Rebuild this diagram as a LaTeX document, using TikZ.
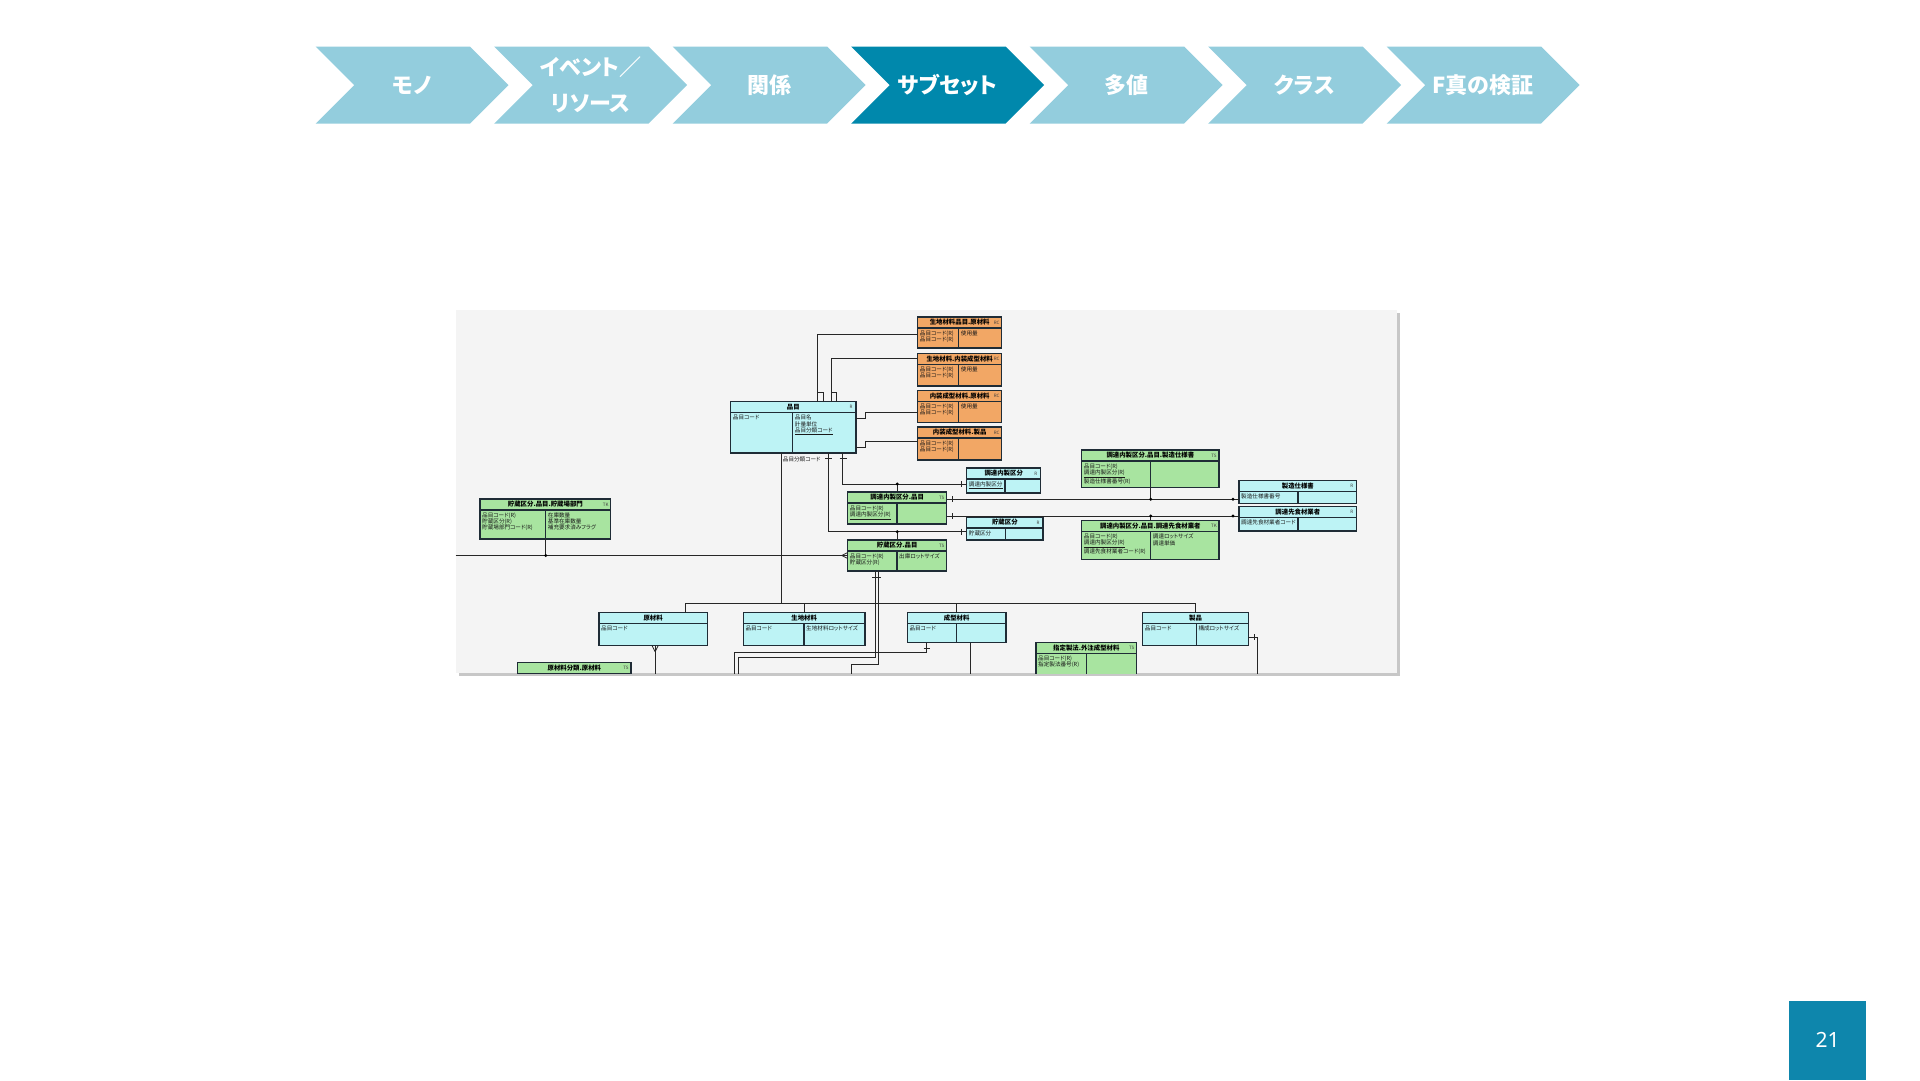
\documentclass[tikz,border=0pt]{standalone}
\usepackage{fontspec}
\usepackage{tikz}
\newfontfamily\jp{Noto Sans CJK JP}[RawFeature=+palt]
\newfontfamily\numfont{Noto Sans}
\usetikzlibrary{shapes.symbols}
\definecolor{stepc}{HTML}{93CDDD}
\definecolor{stepdark}{HTML}{0088AC}
\definecolor{pagec}{HTML}{0E86AC}
\definecolor{erbg}{HTML}{F4F4F4}
\definecolor{ercyan}{HTML}{BDF3F5}
\definecolor{ergreen}{HTML}{A8E4A0}
\definecolor{erorange}{HTML}{F2A765}
\definecolor{eredge}{HTML}{1F2C36}
\tikzstyle{stepbox} = [signal, signal from=west, signal to=east, signal pointer angle=90, minimum width=193pt, minimum height=77.2pt, inner sep=0, text=white, font=\jp\bfseries\fontsize{22}{36}\selectfont, align=center]
\tikzstyle{pagebox} = [fill=pagec, minimum width=77pt, minimum height=79.5pt, text=white, font=\numfont\fontsize{21}{21}\selectfont]
\tikzstyle{entity} = [draw=eredge, line width=1.2pt, rectangle, inner sep=0, outer sep=0]
\tikzstyle{eline} = [draw=eredge, line width=1.2pt]
\tikzstyle{etitle} = [inner sep=0, text=black, font=\jp\bfseries\fontsize{6.4}{6.4}\selectfont]
\tikzstyle{etag} = [inner sep=0, text=black!75, font=\jp\fontsize{4.5}{4.5}\selectfont]
\tikzstyle{ebody} = [inner sep=0, anchor=north west, align=left, text=black!90, font=\jp\fontsize{5.6}{6.2}\selectfont]
\tikzstyle{rel} = [line width=0.8pt, black!85]
\tikzstyle{dot} = [circle, fill=black, inner sep=0, minimum size=3.2pt]
% name, x, y, width, height, fill, divider, title, tag
\newcommand*{\entity}[9]{%
    \node (#1) [entity, fill=#6, minimum width=#4pt, minimum height=#5pt, anchor=north west] at (#2,#3) {};
    \draw [eline] (#1.north west) ++(0,11) coordinate (#1hd) -- ++(#4,0);
    \path (#1hd) ++(#7,0) coordinate (#1div);
    \draw [eline] (#1div) -- (#1div |- #1.south);
    \path (#1.north) ++(0,5.5) node (#1title) [etitle] {#8};
    \path (#1.north east) ++(-5,5.5) node (#1tag) [etag] {#9};
}
\newcommand*{\attrs}[3]{%
    \path (#1hd) ++(2,2.3) node (#1keys) [ebody] {#2};
    \path (#1div) ++(2,2.3) node (#1vals) [ebody] {#3};
}

\begin{document}
\begin{tikzpicture}[x=1pt, y=-1pt]
    \useasboundingbox (0,0) rectangle (1920,1080);
    \fill [white] (0,0) rectangle (1920,1080);

    % Steps.
    \foreach \lbl/\col [count=\i] in {モノ/stepc, {イベント／\\リソース}/stepc, 関係/stepc, サブセット/stepdark, 多値/stepc, クラス/stepc, F真の検証/stepc} {
        \node (step\i) [stepbox, fill=\col] at (233.6+178.5*\i, 85.1) {\lbl};
    }

    % Page number.
    \node (pageno) [pagebox] at (1827.5,1040.25) {21};

    % ER diagram.
    \fill [black!22] (458.5,313) rectangle (1400,676);
    \fill [erbg] (455.5,310) rectangle (1397,673);
    \begin{scope}
    \clip (455.5,310) rectangle (1397,673);

    \entity{sgenzai}{917.7}{317}{84}{31}{erorange}{41}{生地材料品目.原材料}{RC}
    \attrs{sgenzai}{品目コード(R)\\品目コード(R)}{使用量}
    \entity{snaisou}{917.7}{353.5}{84}{32.5}{erorange}{41}{生地材料.内装成型材料}{RC}
    \attrs{snaisou}{品目コード(R)\\品目コード(R)}{使用量}
    \entity{ngenzai}{917.7}{390.5}{84}{32}{erorange}{41}{内装成型材料.原材料}{RC}
    \attrs{ngenzai}{品目コード(R)\\品目コード(R)}{使用量}
    \entity{nseihin}{917.7}{427}{84}{33}{erorange}{41}{内装成型材料.製品}{RC}
    \attrs{nseihin}{品目コード(R)\\品目コード(R)}{}

    \entity{hinmoku}{730.7}{401.7}{125.3}{51.3}{ercyan}{62}{品目}{R}
    \attrs{hinmoku}{品目コード}{品目名\\計量単位\\\underline{品目分類コード}}

    \entity{chokbn}{966.7}{468}{74}{25}{ercyan}{38.3}{調達内製区分}{R}
    \attrs{chokbn}{\underline{調達内製区分}}{}
    \entity{chohin}{847.7}{492}{99}{32}{ergreen}{49.3}{調達内製区分.品目}{TS}
    \attrs{chohin}{品目コード(R)\\\underline{調達内製区分(R)}}{}
    \entity{chozo}{966.7}{517}{76.3}{23}{ercyan}{39}{貯蔵区分}{R}
    \attrs{chozo}{貯蔵区分}{}
    \entity{chozohin}{847.7}{540}{99}{31}{ergreen}{49.3}{貯蔵区分.品目}{TS}
    \attrs{chozohin}{品目コード(R)\\貯蔵区分(R)}{出庫ロットサイズ}
    \entity{chozobu}{480}{499}{130.7}{40}{ergreen}{65.7}{貯蔵区分.品目.貯蔵場部門}{TK}
    \attrs{chozobu}{品目コード(R)\\貯蔵区分(R)\\貯蔵場部門コード(R)}{在庫数量\\基準在庫数量\\補充要求済みフラグ}

    \entity{seizohin}{1081.7}{450}{137.3}{37.3}{ergreen}{69}{調達内製区分.品目.製造仕様書}{TS}
    \attrs{seizohin}{品目コード(R)\\\underline{調達内製区分(R)}\\製造仕様書番号(R)}{}
    \entity{seizosho}{1239}{480.7}{117.7}{22.6}{ercyan}{59}{製造仕様書}{R}
    \attrs{seizosho}{製造仕様書番号}{}
    \entity{gyosha}{1239}{506.7}{117.7}{24.3}{ercyan}{59}{調達先食材業者}{R}
    \attrs{gyosha}{調達先食材業者コード}{}
    \entity{gyoshahin}{1081.7}{520.7}{137.3}{38.6}{ergreen}{69}{調達内製区分.品目.調達先食材業者}{TK}
    \attrs{gyoshahin}{品目コード(R)\\\underline{調達内製区分(R)}\\調達先食材業者コード(R)}{調達ロットサイズ\\調達単価}

    \entity{genzai}{599}{612.7}{108.3}{33}{ercyan}{0}{原材料}{}
    \attrs{genzai}{品目コード}{}
    \entity{seichi}{743.3}{612.7}{121.7}{33}{ercyan}{60.7}{生地材料}{}
    \attrs{seichi}{品目コード}{生地材料ロットサイズ}
    \entity{seikei}{907.3}{612.7}{98.7}{30}{ercyan}{49.4}{成型材料}{}
    \attrs{seikei}{品目コード}{}
    \entity{seihin}{1142.7}{612.7}{105.6}{33}{ercyan}{53.6}{製品}{}
    \attrs{seihin}{品目コード}{構成ロットサイズ}
    \entity{shitei}{1036}{642.7}{100.7}{36}{ergreen}{50.7}{指定製法.外注成型材料}{TS}
    \attrs{shitei}{品目コード(R)\\指定製法番号(R)}{}
    \entity{genbun}{517.7}{662.7}{113.3}{30}{ergreen}{56}{原材料分類.原材料}{TS}

    % Relations of 品目.
    \draw [rel] ([yshift=-17pt]sgenzai.north west) -| ([xshift=86.6pt]hinmoku.north west);
    \draw [rel] ([xshift=86.6pt,yshift=9.7pt]hinmoku.north west) -| ([xshift=93.1pt]hinmoku.north west);
    \draw [rel] ([yshift=-4.8pt]snaisou.north west) -| ([xshift=101pt]hinmoku.north west);
    \draw [rel] ([xshift=101pt,yshift=9.7pt]hinmoku.north west) -| ([xshift=106pt]hinmoku.north west);
    \draw [rel] ([yshift=-21.8pt]ngenzai.north west) -| ([xshift=9.7pt,yshift=-16.6pt]hinmoku.north east) -- ([yshift=-16.6pt]hinmoku.north east);
    \draw [rel] ([yshift=-14pt]nseihin.north west) -| ([xshift=9.7pt,yshift=-45.3pt]hinmoku.north east) -- ([yshift=-45.3pt]hinmoku.north east);

    \draw [rel] ([xshift=112pt]hinmoku.south west) |- ([yshift=-3.5pt]chokbn.west);
    \draw [rel] ([xshift=109pt,yshift=-5pt]hinmoku.south west) -- ++(7,0);
    \draw [rel] ([xshift=-5pt,yshift=-0.5pt]chokbn.west) -- ++(0,6);
    \draw [rel] (chohin.north) -- ++(0,-8) node (j1) [dot] {};

    \draw [rel] ([xshift=97.3pt]hinmoku.south west) |- ([yshift=-3.2pt]chozo.west);
    \draw [rel] ([xshift=94.3pt,yshift=-5pt]hinmoku.south west) -- ++(7,0);
    \draw [rel] ([xshift=-5pt,yshift=-0.2pt]chozo.west) -- ++(0,6);
    \draw [rel] (chozohin.north) -- ++(0,-8.3) node (j2) [dot] {};

    % Relations of 調達内製区分.品目.
    \draw [rel] ([yshift=-7.3pt]chohin.north east) -- ([yshift=-18.6pt]seizosho.north west);
    \draw [rel] ([xshift=6pt,yshift=-4.3pt]chohin.north east) -- ++(0,6);
    \draw [rel] (seizohindiv |- seizohin.south) -- ++(0,12) node (j3) [dot] {};
    \node (j4) [dot] at ([xshift=-6pt,yshift=-18.6pt]seizosho.north west) {};
    \draw [rel] ([yshift=-24pt]chohin.north east) -- ([yshift=-9.3pt]gyosha.north west);
    \draw [rel] ([xshift=6pt,yshift=-21pt]chohin.north east) -- ++(0,6);
    \draw [rel] (gyoshahindiv |- gyoshahin.north) -- ++(0,-4.7) node (j5) [dot] {};
    \node (j6) [dot] at ([xshift=-6pt,yshift=-9.3pt]gyosha.north west) {};

    % Relations of 貯蔵区分.品目.
    \coordinate (erleft) at (455.5,555.5);
    \draw [rel] (erleft) -- (chozohin.west);
    \draw [rel] ([xshift=-6pt]chozohin.west) -- ([yshift=3pt]chozohin.west)
                ([xshift=-6pt]chozohin.west) -- ([yshift=-3pt]chozohin.west);
    \draw [rel] (chozobudiv |- chozobu.south) -- ++(0,16.5) node (j7) [dot] {};
    \draw [rel] ([xshift=27.3pt]chozohin.south west) |- ++(-136.7,86.3) -- ++(0,30);
    \draw [rel] ([xshift=30.8pt]chozohin.south west) |- ++(-27.5,93.3) -- ++(0,30);
    \draw [rel] ([xshift=24.5pt,yshift=-6pt]chozohin.south west) -- ++(9,0);

    % Subtypes.
    \draw [rel] ([xshift=50.3pt]hinmoku.south west) -- ++(0,150.3) coordinate (bus);
    \node (bunrui) [ebody, anchor=west] at ([xshift=52pt,yshift=-6pt]hinmoku.south west) {品目分類コード};
    \draw [rel] ([xshift=32.5pt]genzai.north) |- (seihin.north |- bus) -- (seihin.north);
    \draw [rel] (seichi.north) -- (seichi.north |- bus);
    \draw [rel] (seikei.north) -- (seikei.north |- bus);

    \draw [rel] ([xshift=2pt]genzai.south) -- ++(0,40);
    \draw [rel] ([xshift=2pt,yshift=-6pt]genzai.south) -- ([xshift=-1pt]genzai.south)
                ([xshift=2pt,yshift=-6pt]genzai.south) -- ([xshift=5pt]genzai.south);
    \draw [rel] ([xshift=19.4pt]seikei.south west) |- ++(-192.4,10) -- ++(0,30);
    \draw [rel] ([xshift=16.4pt,yshift=-5.6pt]seikei.south west) -- ++(6,0);
    \draw [rel] ([xshift=63.4pt]seikei.south west) -- ++(0,40);
    \draw [rel] ([yshift=-24.6pt]seihin.north east) -| ++(9.4,40);
    \draw [rel] ([xshift=5.7pt,yshift=-21.6pt]seihin.north east) -- ++(0,6);
    \end{scope}
\end{tikzpicture}
\end{document}
